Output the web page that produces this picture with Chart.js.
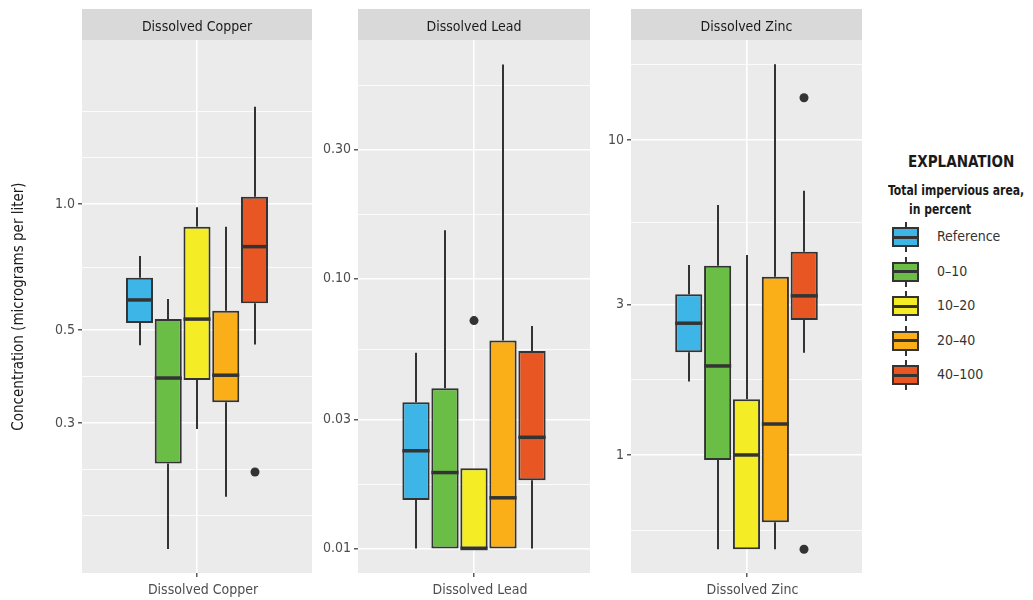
<!DOCTYPE html>
<html>
<head>
<meta charset="utf-8">
<script src="https://cdn.jsdelivr.net/npm/chart.js@4.4.1/dist/chart.umd.min.js"></script>
<style>
  body { margin: 0; background: #fff; width: 1033px; height: 600px; overflow: hidden; position: relative;
         font-family: "Liberation Sans Narrow", "DejaVu Sans Condensed", "Roboto Condensed", Roboto, sans-serif; }
  canvas { position: absolute; top: 0; }
  #legend { position: absolute; left: 870px; top: 0; width: 163px; height: 600px; color: #1a1a1a; }
  #legend .hd { position: absolute; white-space: nowrap; font-weight: bold; transform-origin: 0 50%; }
  #legend .lab { position: absolute; left: 67px; font-size: 14px; color: #333; white-space: nowrap; }
  #legend .key { position: absolute; left: 22px; width: 27px; height: 20px; box-sizing: border-box; border: 2px solid #333; }
  #legend .mid { position: absolute; left: 0; right: 0; top: 6.5px; height: 3px; background: #333; }
  #legend .stub { position: absolute; left: 34.5px; width: 2px; height: 5px; background: #333; }
</style>
</head>
<body>
<canvas id="copper" width="320" height="600" style="left:0px"></canvas>
<canvas id="lead" width="280" height="600" style="left:320px"></canvas>
<canvas id="zinc" width="270" height="600" style="left:600px"></canvas>
<div id="legend">
  <div class="hd" style="left:38px; top:152px; font-size:16px; transform: scaleX(0.94);">EXPLANATION</div>
  <div class="hd" style="left:18px; top:182px; font-size:14px; transform: scaleX(0.86);">Total impervious area,</div>
  <div class="hd" style="left:39px; top:201px; font-size:14px; transform: scaleX(0.86);">in percent</div>
</div>
<script>
const FONT = '"Liberation Sans Narrow", "DejaVu Sans Condensed", "Roboto Condensed", Roboto, sans-serif';

const groups = ['Reference', '0\u201310', '10\u201320', '20\u201340', '40\u2013100'];
const colors = ['#3db5e6', '#6bbe45', '#f4ec24', '#faae18', '#e85624'];

// Dissolved copper (micrograms per liter)
const copperMin = [0.460, 0.150, 0.290, 0.200, 0.462];
const copperQ1  = [0.520, 0.240, 0.380, 0.336, 0.579];
const copperMed = [0.590, 0.384, 0.531, 0.390, 0.791];
const copperQ3  = [0.667, 0.531, 0.883, 0.556, 1.041];
const copperMax = [0.751, 0.593, 0.982, 0.883, 1.708];
const copperOut = [[], [], [], [], [0.229]];
const copperTicks = [0.3, 0.5, 1.0];
const copperTickLabels = ['0.3', '0.5', '1.0'];
const copperMinor = [0.180, 0.2323, 0.3873, 0.7071, 1.291, 1.667];

// Dissolved lead
const leadMin = [0.0100, 0.0100, 0.0100, 0.0100, 0.0100];
const leadQ1  = [0.0151, 0.0100, 0.0100, 0.0100, 0.0179];
const leadMed = [0.0230, 0.0191, 0.0100, 0.0154, 0.0258];
const leadQ3  = [0.0348, 0.0392, 0.0198, 0.0589, 0.0539];
const leadMax = [0.0531, 0.151, 0.0198, 0.620, 0.0667];
const leadOut = [[], [], [0.0698], [], []];
const leadTicks = [0.01, 0.03, 0.10, 0.30];
const leadTickLabels = ['0.01', '0.03', '0.10', '0.30'];
const leadMinor = [0.01732, 0.05477, 0.1732, 0.5196];

// Dissolved zinc
const zincMin = [1.71, 0.502, 0.502, 0.502, 2.11];
const zincQ1  = [2.12, 0.964, 0.502, 0.611, 2.68];
const zincMed = [2.62, 1.917, 1.00, 1.254, 3.20];
const zincQ3  = [3.24, 3.99, 1.502, 3.68, 4.42];
const zincMax = [4.01, 6.22, 4.31, 17.39, 6.90];
const zincOut = [[], [], [], [], [13.62, 0.502]];
const zincTicks = [1, 3, 10];
const zincTickLabels = ['1', '3', '10'];
const zincMinor = [0.5774, 1.732, 5.477, 17.32];

const panels = [
  { id: 'copper', name: 'Dissolved Copper', min: copperMin, q1: copperQ1, med: copperMed, q3: copperQ3, max: copperMax, out: copperOut,
    ticks: copperTicks, labels: copperTickLabels, minor: copperMinor, yMin: 0.1314, yMax: 2.465, axisW: 82, padR: 8, title: true },
  { id: 'lead', name: 'Dissolved Lead', min: leadMin, q1: leadQ1, med: leadMed, q3: leadQ3, max: leadMax, out: leadOut,
    ticks: leadTicks, labels: leadTickLabels, minor: leadMinor, yMin: 0.00811, yMax: 0.7643, axisW: 38, padR: 10 },
  { id: 'zinc', name: 'Dissolved Zinc', min: zincMin, q1: zincQ1, med: zincMed, q3: zincQ3, max: zincMax, out: zincOut,
    ticks: zincTicks, labels: zincTickLabels, minor: zincMinor, yMin: 0.422, yMax: 20.77, axisW: 31, padR: 8 }
];

// panel background, strip, whiskers, medians and outliers
function boxExtras(p) {
  return {
    id: 'boxExtras',
    beforeDraw(chart) {
      const a = chart.chartArea, c = chart.ctx;
      c.save();
      c.fillStyle = '#ebebeb';
      c.fillRect(a.left, a.top, a.right - a.left, a.bottom - a.top);
      c.fillStyle = '#d9d9d9';
      c.fillRect(a.left, 9, a.right - a.left, a.top - 9);
      c.fillStyle = '#1a1a1a';
      c.font = '14px ' + FONT;
      c.textAlign = 'center';
      c.textBaseline = 'middle';
      c.fillText(p.name, (a.left + a.right) / 2, (9 + a.top) / 2 + 3);
      c.restore();
    },
    afterDatasetsDraw(chart) {
      const y = chart.scales.y, c = chart.ctx;
      c.save();
      c.strokeStyle = '#333';
      c.fillStyle = '#333';
      p.med.forEach((m, i) => {
        const bar = chart.getDatasetMeta(i).data[0];
        const x = Math.round(bar.x), hw = bar.width / 2;
        c.lineWidth = 2;
        c.beginPath();
        c.moveTo(x, y.getPixelForValue(p.q3[i]));
        c.lineTo(x, y.getPixelForValue(p.max[i]));
        c.moveTo(x, y.getPixelForValue(p.q1[i]));
        c.lineTo(x, y.getPixelForValue(p.min[i]));
        c.stroke();
        c.lineWidth = 3.5;
        c.beginPath();
        const ym = y.getPixelForValue(m);
        c.moveTo(bar.x - hw, ym);
        c.lineTo(bar.x + hw, ym);
        c.stroke();
        p.out[i].forEach(v => {
          c.beginPath();
          c.arc(x, y.getPixelForValue(v), 4.5, 0, Math.PI * 2);
          c.fill();
        });
      });
      c.restore();
    }
  };
}

panels.forEach(p => {
  const grid = p.ticks.concat(p.minor).sort((a, b) => a - b);
  const isMajor = v => p.ticks.indexOf(v) >= 0;
  new Chart(document.getElementById(p.id), {
    type: 'bar',
    data: {
      labels: [p.name],
      datasets: groups.map((g, i) => ({
        label: g,
        data: [[p.q1[i], p.q3[i]]],
        backgroundColor: colors[i],
        borderColor: '#333',
        borderWidth: 2,
        borderSkipped: false,
        categoryPercentage: 0.625,
        barPercentage: 0.94
      }))
    },
    options: {
      responsive: false,
      animation: false,
      layout: { padding: { left: 0, right: p.padR, top: 40, bottom: 0 } },
      plugins: { legend: { display: false }, tooltip: { enabled: false } },
      scales: {
        x: {
          afterFit(s) { s.height = 27; },
          grid: { offset: false, color: '#fff', lineWidth: 1.6, tickLength: 4, tickColor: '#333', tickWidth: 1.2 },
          border: { display: false },
          ticks: { color: '#4d4d4d', font: { size: 14, family: FONT }, padding: 5, labelOffset: 6 }
        },
        y: {
          type: 'logarithmic',
          min: p.yMin,
          max: p.yMax,
          afterBuildTicks(s) { s.ticks = grid.map(v => ({ value: v })); },
          afterFit(s) { s.width = p.axisW; },
          grid: {
            color: '#fff',
            lineWidth: ctx => isMajor(ctx.tick.value) ? 1.6 : 0.8,
            tickLength: 4,
            tickWidth: 1.2,
            tickColor: ctx => isMajor(ctx.tick.value) ? '#333' : 'rgba(0,0,0,0)'
          },
          border: { display: false },
          ticks: {
            autoSkip: false,
            color: '#4d4d4d',
            font: { size: 14, family: FONT },
            padding: 3,
            callback: v => { const k = p.ticks.indexOf(v); return k < 0 ? '' : p.labels[k]; }
          },
          title: {
            display: !!p.title,
            text: 'Concentration (micrograms per liter)',
            color: '#1a1a1a',
            font: { size: 15, family: FONT },
            padding: { top: 10, bottom: 0 }
          }
        }
      }
    },
    plugins: [boxExtras(p)]
  });
});

// legend keys
const legend = document.getElementById('legend');
groups.forEach((g, i) => {
  const cy = 237 + i * 34.5;
  const key = document.createElement('div');
  key.className = 'key';
  key.style.top = (cy - 10) + 'px';
  key.style.background = colors[i];
  key.innerHTML = '<div class="mid"></div>';
  legend.appendChild(key);
  [cy - 15, cy + 10].forEach(t => {
    const s = document.createElement('div');
    s.className = 'stub';
    s.style.top = t + 'px';
    legend.appendChild(s);
  });
  const lab = document.createElement('div');
  lab.className = 'lab';
  lab.style.top = (cy - 9) + 'px';
  lab.textContent = g;
  legend.appendChild(lab);
});
</script>
</body>
</html>
